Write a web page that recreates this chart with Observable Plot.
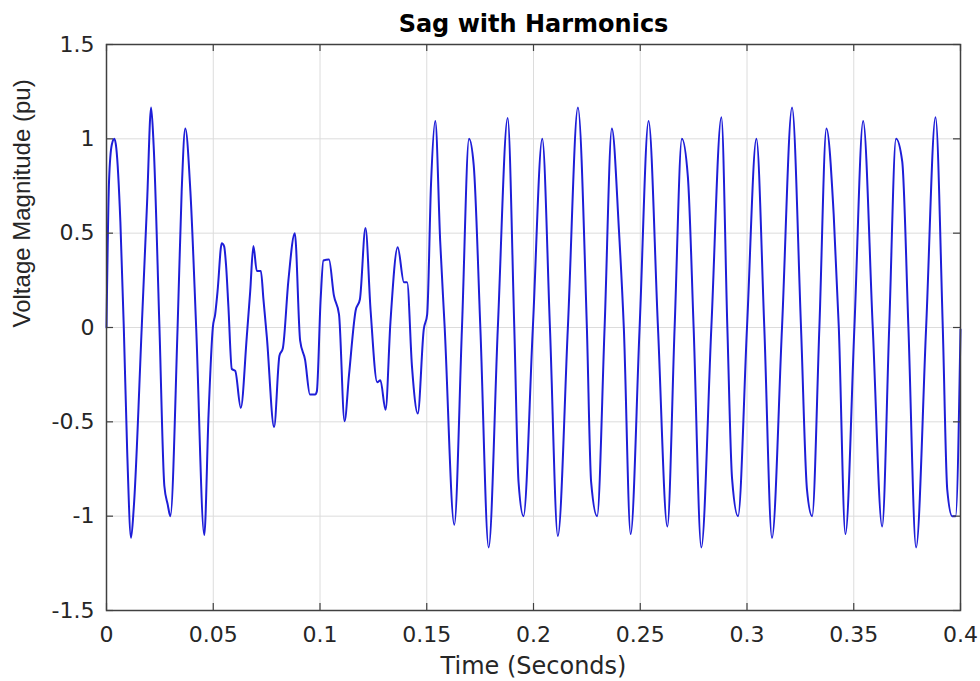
<!DOCTYPE html>
<html><head><meta charset="utf-8">
<script src="https://cdn.jsdelivr.net/npm/d3@7"></script>
<script src="https://cdn.jsdelivr.net/npm/@observablehq/plot@0.6"></script>
<style>html,body{margin:0;padding:0;background:#fff;} #chart{width:980px;height:681px;}</style>
</head><body><div id="chart"></div>
<script>
// Waveform (time in seconds, voltage in pu)
const timeSeconds = [
  0, 0.0012, 0.0025, 0.0037, 0.0046, 0.0065, 0.0081, 0.0097, 0.0115, 0.0128,
  0.0165, 0.019, 0.0209, 0.0221, 0.0248, 0.0271, 0.0287, 0.0299, 0.0333, 0.0352,
  0.0369, 0.0393, 0.042, 0.0458, 0.0478, 0.0498,
  0.0509, 0.052, 0.054, 0.0551, 0.056, 0.0571, 0.0587, 0.0603, 0.0629, 0.0657,
  0.0673, 0.0688, 0.0704, 0.0723, 0.0735, 0.0751, 0.0785, 0.081, 0.0826, 0.0852,
  0.0882, 0.0907, 0.093, 0.0953, 0.0977, 0.0985, 0.1003, 0.1016, 0.1042, 0.1065,
  0.1089, 0.1115, 0.1136, 0.1167, 0.1187, 0.1213, 0.1237, 0.1268, 0.1283, 0.1307,
  0.133, 0.1364, 0.1393, 0.1408, 0.1431, 0.1458, 0.1486, 0.1502,
  0.152, 0.154, 0.1563, 0.1584, 0.1629, 0.1665, 0.1698, 0.172, 0.1751, 0.179,
  0.1833, 0.1879, 0.191, 0.193, 0.1953, 0.1997,
  0.2041, 0.2077, 0.2114, 0.2161, 0.2208, 0.225, 0.227, 0.2298, 0.2333, 0.2367,
  0.24, 0.2423, 0.2455, 0.2497, 0.2539, 0.2583, 0.2627, 0.2661, 0.2695, 0.2723,
  0.275, 0.2786, 0.2833, 0.288, 0.2908, 0.293, 0.2958, 0.3,
  0.3044, 0.3081, 0.3117, 0.3164, 0.3211, 0.3253, 0.3281, 0.3305, 0.3339, 0.3372,
  0.3406, 0.343, 0.3461, 0.3503, 0.3544, 0.3589, 0.3633, 0.3666, 0.3698, 0.3727,
  0.3756, 0.3792, 0.3839, 0.3883, 0.3917, 0.3938, 0.3961, 0.3977, 0.4
];
const voltagePu = [
  0, 0.78, 0.97, 1.0, 0.95, 0.56, 0, -0.66, -1.115, -0.95,
  0, 0.66, 1.166, 0.96, 0, -0.84, -0.94, -1.0, 0, 0.72,
  1.055, 0.72, 0, -1.1, -0.46, 0,
  0.07, 0.19, 0.446, 0.43, 0.33, 0.11, -0.22, -0.23, -0.426, -0.05,
  0.19, 0.432, 0.3, 0.3, 0.15, -0.05, -0.527, -0.15, -0.11, 0.25,
  0.5, -0.07, -0.17, -0.355, -0.355, -0.34, 0.15, 0.355, 0.36, 0.17,
  0.07, -0.497, -0.25, 0.09, 0.15, 0.527, 0.09, -0.29, -0.28, -0.436,
  0.03, 0.426, 0.24, 0.24, -0.21, -0.456, -0.01, 0.07,
  0.76, 1.095, 0.456, 0, -1.045, 0, 1.0, 0.86, 0, -1.166,
  0, 1.11, 0, -0.82, -1.0, 0,
  1.0, 0, -1.105, 0, 1.166, 0, -0.82, -1.0, 0, 1.055,
  0.52, 0, -1.095, 0, 1.095, 0, -1.055, 0, 1.0, 0.8,
  0, -1.166, 0, 1.115, 0, -0.8, -1.0, 0,
  1.0, 0, -1.115, 0, 1.166, 0, -0.86, -1.0, 0, 1.055,
  0.6, 0, -1.095, 0, 1.095, 0, -1.055, 0, 1.0, 0.88,
  0, -1.166, 0, 1.115, 0, -0.86, -1.0, -1.0, -0.01
];
const xTicks = [0, 0.05, 0.1, 0.15, 0.2, 0.25, 0.3, 0.35, 0.4];
const xTickLabels = ["0", "0.05", "0.1", "0.15", "0.2", "0.25", "0.3", "0.35", "0.4"];
const yTicks = [-1.5, -1, -0.5, 0, 0.5, 1, 1.5];
const yTickLabels = ["-1.5", "-1", "-0.5", "0", "0.5", "1", "1.5"];
const titleText = "Sag with Harmonics";
const xLabelText = "Time (Seconds)";
const yLabelText = "Voltage Magnitude (pu)";

const data = timeSeconds.map((t, i) => ({t, v: voltagePu[i]}));
const W = 980, H = 681, mL = 106, mR = 20, mT = 44, mB = 71;
const plotW = W - mL - mR, plotH = H - mT - mB;
const tickLen = 7;
const axisColor = "#404040";
const textColor = "#262626";

const chart = Plot.plot({
  width: W, height: H,
  marginLeft: mL, marginRight: mR, marginTop: mT, marginBottom: mB,
  style: {background: "#fff", fontFamily: "DejaVu Sans", fontSize: "22px", color: textColor},
  x: {domain: [0, 0.4], ticks: xTicks, label: null},
  y: {domain: [-1.5, 1.5], ticks: yTicks, label: null},
  marks: [
    Plot.gridX(xTicks, {stroke: "#dcdcdc", strokeOpacity: 1, strokeWidth: 1}),
    Plot.gridY(yTicks, {stroke: "#dcdcdc", strokeOpacity: 1, strokeWidth: 1}),
    Plot.line(data, {x: "t", y: "v", stroke: "#1e1ed8", strokeWidth: 2, curve: "monotone-x"}),
    Plot.ruleX(xTicks, {x: d => d, insetTop: plotH - tickLen, stroke: axisColor, strokeWidth: 1.2}),
    Plot.ruleX(xTicks, {x: d => d, insetBottom: plotH - tickLen, stroke: axisColor, strokeWidth: 1.2}),
    Plot.ruleY(yTicks, {y: d => d, insetRight: plotW - tickLen, stroke: axisColor, strokeWidth: 1.2}),
    Plot.ruleY(yTicks, {y: d => d, insetLeft: plotW - tickLen, stroke: axisColor, strokeWidth: 1.2}),
    Plot.frame({stroke: axisColor, strokeWidth: 1.5}),
    Plot.axisX(xTicks, {anchor: "bottom", tickSize: 0, tickPadding: 16,
      tickFormat: d => xTickLabels[xTicks.indexOf(d)], fontSize: 22, fill: textColor}),
    Plot.axisY(yTicks, {anchor: "left", tickSize: 0, tickPadding: 12,
      tickFormat: d => yTickLabels[yTicks.indexOf(d)], fontSize: 22, fill: textColor}),
    Plot.text([titleText], {text: d => d, frameAnchor: "top", dy: -30,
      fontWeight: "bold", fontSize: 24, fill: "#000"}),
    Plot.text([xLabelText], {text: d => d, frameAnchor: "bottom", dy: 63,
      fontSize: 24, fill: textColor}),
    Plot.text([yLabelText], {text: d => d, frameAnchor: "left", dx: -84, rotate: -90,
      fontSize: 24, fontFamily: "Liberation Sans", fill: textColor})
  ]
});
document.getElementById("chart").appendChild(chart);
</script>
</body></html>
